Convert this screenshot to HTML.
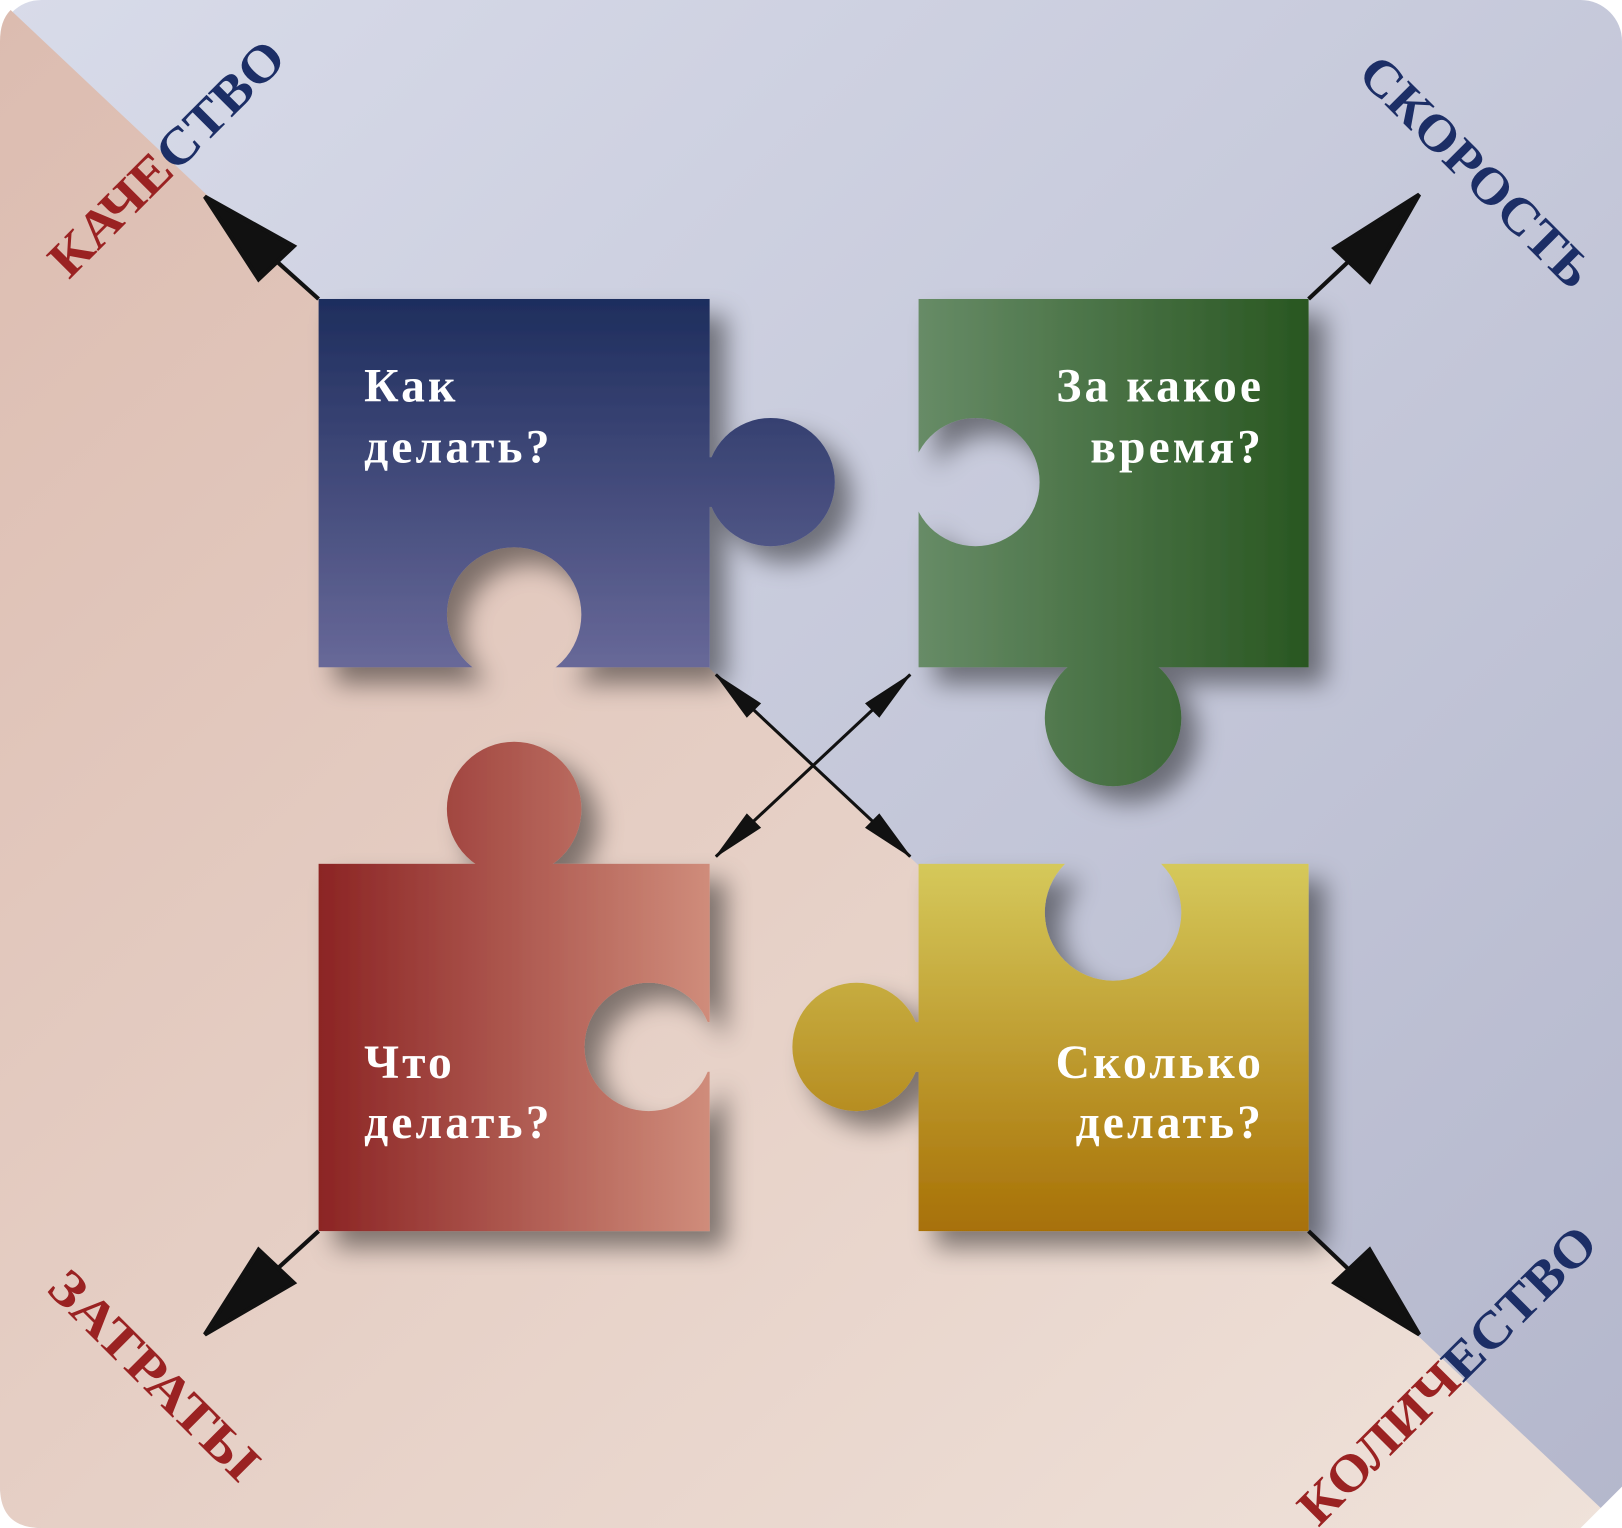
<!DOCTYPE html>
<html><head><meta charset="utf-8"><style>
html,body{margin:0;padding:0;background:#fff;}
svg{display:block;}
</style></head><body>
<svg width="1622" height="1528" viewBox="0 0 1568 1477" preserveAspectRatio="none" xmlns="http://www.w3.org/2000/svg">
<defs>
<linearGradient id="bgL" x1="0" y1="0" x2="1" y2="1">
<stop offset="0" stop-color="#dcbcb0"/><stop offset="1" stop-color="#efe2da"/></linearGradient>
<linearGradient id="bgU" x1="0" y1="0" x2="1" y2="1">
<stop offset="0" stop-color="#d8dbe9"/><stop offset="1" stop-color="#b4b7cc"/></linearGradient>
<linearGradient id="gB" x1="0" y1="0" x2="0" y2="1"><stop offset="0" stop-color="#1c2c5c"/><stop offset="1" stop-color="#6b6b9b"/></linearGradient>
<linearGradient id="gG" x1="0" y1="0" x2="1" y2="0"><stop offset="0" stop-color="#6a8e6a"/><stop offset="1" stop-color="#285620"/></linearGradient>
<linearGradient id="gR" x1="0" y1="0" x2="1" y2="0"><stop offset="0" stop-color="#8a2222"/><stop offset="1" stop-color="#d2907e"/></linearGradient>
<linearGradient id="gY" x1="0" y1="0" x2="0" y2="1"><stop offset="0" stop-color="#d6ca5c"/><stop offset="1" stop-color="#a66e04"/></linearGradient>
<filter id="sh" x="-30%" y="-30%" width="170%" height="170%"><feDropShadow dx="16" dy="16" stdDeviation="12" flood-color="#000" flood-opacity="0.45"/></filter>
<mask id="mB" maskUnits="userSpaceOnUse" x="0" y="0" width="1568" height="1477"><rect x="308" y="289" width="378" height="356" fill="#fff"/><rect x="680" y="442" width="20" height="48" fill="#fff"/><circle cx="745" cy="466" r="62" fill="#fff"/><circle cx="497" cy="594" r="65" fill="#000"/><rect x="473" y="600" width="48" height="50" fill="#000"/></mask>
<mask id="mG" maskUnits="userSpaceOnUse" x="0" y="0" width="1568" height="1477"><rect x="888" y="289" width="377" height="356" fill="#fff"/><rect x="1052" y="640" width="48" height="20" fill="#fff"/><circle cx="1076" cy="694" r="66" fill="#fff"/><circle cx="943" cy="466" r="62" fill="#000"/><rect x="880" y="442" width="60" height="48" fill="#000"/></mask>
<mask id="mR" maskUnits="userSpaceOnUse" x="0" y="0" width="1568" height="1477"><rect x="308" y="835" width="378" height="355" fill="#fff"/><rect x="473" y="820" width="48" height="20" fill="#fff"/><circle cx="497" cy="782" r="65" fill="#fff"/><circle cx="627" cy="1012" r="62" fill="#000"/><rect x="630" y="988" width="60" height="48" fill="#000"/></mask>
<mask id="mY" maskUnits="userSpaceOnUse" x="0" y="0" width="1568" height="1477"><rect x="888" y="835" width="377" height="355" fill="#fff"/><rect x="870" y="988" width="22" height="48" fill="#fff"/><circle cx="828" cy="1012" r="62" fill="#fff"/><circle cx="1076" cy="882" r="66" fill="#000"/><rect x="1052" y="828" width="48" height="50" fill="#000"/></mask>
</defs>
<rect x="0" y="0" width="1568" height="1477" rx="40" fill="url(#bgU)"/>
<path d="M0 0 L0 1437 Q0 1477 40 1477 L1568 1477 Z" fill="url(#bgL)"/>
<path d="M0 40 Q0 0 40 0 L0 0 Z M1568 1437 L1568 1477 L1528 1477 Z" fill="#fff"/>

<g filter="url(#sh)"><rect x="300" y="280" width="520" height="380" fill="url(#gB)" mask="url(#mB)"/></g>
<g filter="url(#sh)"><rect x="870" y="280" width="400" height="490" fill="url(#gG)" mask="url(#mG)"/></g>
<g filter="url(#sh)"><rect x="300" y="710" width="400" height="490" fill="url(#gR)" mask="url(#mR)"/></g>
<g filter="url(#sh)"><rect x="760" y="830" width="510" height="370" fill="url(#gY)" mask="url(#mY)"/></g>

<g font-family="Liberation Serif, serif" font-weight="bold" font-size="46" letter-spacing="3" fill="#fff">
<text x="352" y="388">Как</text><text x="352" y="447">делать?</text>
<text x="1222" y="388" text-anchor="end">За какое</text><text x="1222" y="447" text-anchor="end">время?</text>
<text x="352" y="1042">Что</text><text x="352" y="1100">делать?</text>
<text x="1222" y="1042" text-anchor="end">Сколько</text><text x="1222" y="1100" text-anchor="end">делать?</text>
</g>

<g stroke="#111" stroke-width="4" fill="#111">
<line x1="308" y1="289" x2="240" y2="228"/><polygon points="198,190 284,238 250,270"/>
<line x1="1265" y1="289" x2="1330" y2="228"/><polygon points="1372,188 1324,272 1290,240"/>
<line x1="308" y1="1190" x2="240" y2="1252"/><polygon points="198,1290 250,1208 284,1240"/>
<line x1="1265" y1="1190" x2="1330" y2="1252"/><polygon points="1372,1290 1290,1240 1324,1208"/>
<line x1="692" y1="652" x2="880" y2="828" stroke-width="3"/>
<line x1="692" y1="828" x2="880" y2="652" stroke-width="3"/>
<polygon points="692,652 722,693 735,680" stroke-width="1"/>
<polygon points="880,828 850,787 837,800" stroke-width="1"/>
<polygon points="880,652 850,693 837,680" stroke-width="1"/>
<polygon points="692,828 722,787 735,800" stroke-width="1"/>
</g>

<g font-family="Liberation Serif, serif" font-weight="bold" font-size="50">
<text transform="translate(160,152) rotate(-45)" text-anchor="middle" dy="18" textLength="300" lengthAdjust="spacingAndGlyphs"><tspan fill="#9a2222">КАЧЕ</tspan><tspan fill="#1c2e66">СТВО</tspan></text>
<text transform="translate(1428,165) rotate(45)" text-anchor="middle" dy="18" fill="#1c2e66" textLength="295" lengthAdjust="spacingAndGlyphs">СКОРОСТЬ</text>
<text transform="translate(150,1328) rotate(45)" text-anchor="middle" dy="18" fill="#9a2222" textLength="265" lengthAdjust="spacingAndGlyphs">ЗАТРАТЫ</text>
<text transform="translate(1398,1328) rotate(-45)" text-anchor="middle" dy="18" textLength="385" lengthAdjust="spacingAndGlyphs"><tspan fill="#9a2222">КОЛИЧ</tspan><tspan fill="#1c2e66">ЕСТВО</tspan></text>
</g>
</svg>
</body></html>
